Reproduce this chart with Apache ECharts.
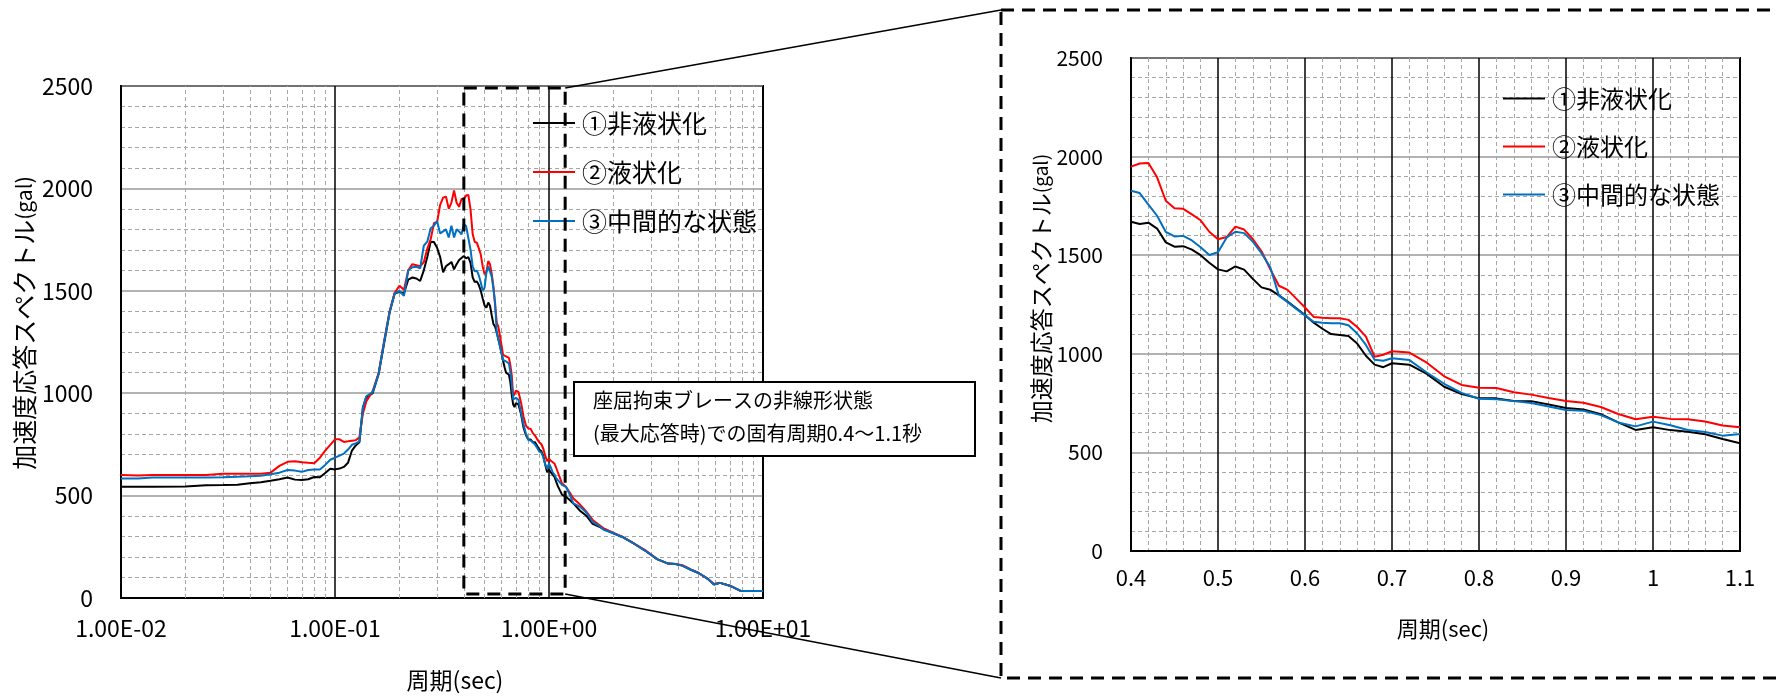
<!DOCTYPE html>
<html>
<head>
<meta charset="utf-8">
<script src="https://cdn.jsdelivr.net/npm/echarts@6/dist/echarts.min.js"></script>
<style>
  html, body { margin: 0; padding: 0; background: #fff; }
  #chart { width: 1778px; height: 697px; }
</style>
</head>
<body>
<div id="chart"></div>
<script>
// 系列名
const seriesNames = ['①非液状化', '②液状化', '③中間的な状態']
const seriesColors = ['#000000', '#ff0000', '#0070c0']

// 短周期側 (0.01〜0.39 sec)
const lowPeriods = [0.01, 0.012, 0.014, 0.02, 0.025, 0.03, 0.035, 0.04, 0.045, 0.05, 0.055, 0.06, 0.065, 0.07, 0.075, 0.08, 0.085, 0.09, 0.095,
  0.1, 0.105, 0.11, 0.115, 0.12, 0.125, 0.13, 0.135, 0.14,
  0.15, 0.16, 0.17, 0.18, 0.19, 0.2, 0.21, 0.22, 0.23, 0.24, 0.25, 0.26, 0.27, 0.28, 0.29, 0.3, 0.31, 0.32, 0.33, 0.34, 0.35, 0.36, 0.37, 0.38, 0.39]
const lowNonLiq = [543, 543, 543, 545, 551, 552, 553, 560, 565, 572, 580, 588, 578, 576, 580, 591, 590, 610, 631,
  628, 632, 640, 660, 720, 745, 760, 930, 980,
  1000, 1095, 1250, 1395, 1487, 1495, 1487, 1555, 1565, 1560, 1548, 1600, 1665, 1740, 1738, 1710, 1665, 1590, 1620, 1630, 1641, 1605, 1630, 1650, 1660]
const lowLiq = [600, 598, 600, 600, 600, 607, 607, 607, 607, 612, 645, 665, 668, 663, 660, 658, 685, 720, 748,
  775, 775, 762, 765, 768, 770, 785, 900, 960,
  1010, 1100, 1260, 1400, 1490, 1525, 1505, 1600, 1630, 1625, 1620, 1640, 1705, 1752, 1830, 1836, 1920, 1955, 1960, 1900, 1931, 1990, 1930, 1910, 1948]
const lowMid = [583, 583, 588, 588, 588, 590, 592, 594, 597, 604, 612, 625, 622, 616, 625, 627, 627, 650, 675,
  685, 695, 705, 725, 748, 755, 765, 930, 985,
  1005, 1095, 1255, 1395, 1487, 1499, 1475, 1600, 1615, 1617, 1610, 1720, 1740, 1805, 1818, 1840, 1780, 1790, 1800, 1760, 1818, 1760, 1800, 1790, 1775]

// 拡大範囲 (0.4〜1.1 sec)
const midPeriods = [0.4, 0.41, 0.42, 0.43, 0.44, 0.45, 0.46, 0.47, 0.48, 0.49, 0.5, 0.51, 0.52, 0.53, 0.54, 0.55, 0.56, 0.57, 0.58, 0.59,
  0.6, 0.61, 0.62, 0.63, 0.64, 0.65, 0.66, 0.67, 0.68, 0.69, 0.7,
  0.72, 0.74, 0.76, 0.78, 0.8, 0.82, 0.84, 0.86, 0.88, 0.9, 0.92, 0.94, 0.96, 0.98, 1.0, 1.02, 1.04, 1.06, 1.08, 1.1]
const midNonLiq = [1670, 1658, 1665, 1635, 1565, 1543, 1546, 1528, 1500, 1462, 1428, 1418, 1443, 1427, 1380, 1337, 1325, 1296, 1265, 1231,
  1197, 1158, 1127, 1100, 1095, 1090, 1052, 990, 945, 932, 952,
  945, 898, 833, 796, 774, 774, 761, 760, 743, 725, 718, 694, 652, 614, 627, 613, 605, 592, 568, 546]
const midLiq = [1949, 1965, 1968, 1895, 1776, 1738, 1735, 1707, 1677, 1619, 1581, 1592, 1645, 1630, 1582, 1520, 1430, 1345, 1324, 1280,
  1235, 1187, 1183, 1180, 1180, 1172, 1136, 1087, 985, 995, 1013,
  1006, 955, 886, 842, 828, 827, 805, 793, 776, 761, 752, 730, 695, 668, 681, 670, 668, 657, 636, 627]
const midMid = [1827, 1815, 1757, 1700, 1618, 1595, 1598, 1575, 1540, 1501, 1515, 1590, 1619, 1612, 1569, 1510, 1440, 1295, 1262, 1228,
  1195, 1162, 1158, 1155, 1155, 1145, 1103, 1045, 970, 965, 977,
  968, 905, 848, 802, 772, 769, 760, 750, 733, 715, 711, 689, 652, 632, 656, 638, 614, 603, 585, 593]

// 長周期側 (1.15〜10 sec)
const highPeriods = [1.15, 1.2, 1.25, 1.3, 1.4, 1.5, 1.6, 1.7, 1.8, 2.0, 2.2, 2.5, 2.8, 3.2, 3.6, 3.9, 4.2, 4.6, 5.0, 5.5, 5.9, 6.3, 7.0, 7.9, 10]
const highNonLiq = [505, 494, 478, 462, 425, 400, 362, 350, 338, 316, 298, 265, 233, 190, 168, 166, 158, 138, 122, 95, 66, 74, 60, 34, 34]
const highLiq = [560, 543, 515, 486, 455, 420, 381, 360, 340, 318, 300, 265, 235, 190, 168, 166, 160, 140, 122, 95, 68, 74, 60, 34, 34]
const highMid = [552, 543, 505, 462, 445, 415, 370, 355, 333, 316, 298, 265, 233, 190, 168, 166, 158, 138, 122, 95, 66, 74, 60, 34, 34]

const lowValues = [lowNonLiq, lowLiq, lowMid]
const midValues = [midNonLiq, midLiq, midMid]
const highValues = [highNonLiq, highLiq, highMid]

const FONT = '"Noto Sans CJK JP", "Noto Sans", sans-serif'
const zip = (xs, ys) => xs.map((x, i) => [x, ys[i]])

// 全体図の系列
const fullSeries = seriesNames.map((name, i) => ({
  name: name,
  type: 'line',
  xAxisIndex: 0,
  yAxisIndex: 0,
  symbol: 'none',
  z: 3,
  lineStyle: { color: seriesColors[i], width: 2 },
  itemStyle: { color: seriesColors[i] },
  data: zip(lowPeriods.concat(midPeriods, highPeriods), lowValues[i].concat(midValues[i], highValues[i]))
}))

// 拡大図の系列
const zoomSeries = seriesNames.map((name, i) => ({
  name: name,
  type: 'line',
  xAxisIndex: 1,
  yAxisIndex: 1,
  symbol: 'none',
  z: 3,
  lineStyle: { color: seriesColors[i], width: 2 },
  itemStyle: { color: seriesColors[i] },
  data: zip(midPeriods, midValues[i])
}))

// 対数軸の補助目盛線 (2〜9)
const logMinorLines = []
;[0.01, 0.1, 1].forEach(d => {
  for (let k = 2; k <= 9; k++) logMinorLines.push({ xAxis: +(k * d).toPrecision(3) })
})

const gridLineDash = { color: '#a6a6a6', width: 1, type: [4, 3] }

function makeYAxis(gridIndex, nameGap, fs, shift) {
  return {
    type: 'value',
    gridIndex: gridIndex,
    min: 0,
    max: 2500,
    interval: 500,
    name: '{a|加速度応答スペクトル}{b|(gal)}',
    nameLocation: 'middle',
    nameGap: nameGap,
    nameTextStyle: {
      color: '#000',
      fontFamily: FONT,
      padding: [0, 0, 0, shift],
      rich: {
        a: { fontSize: fs, fontFamily: FONT, color: '#000' },
        b: { fontSize: fs - 4, fontFamily: FONT, color: '#000' }
      }
    },
    axisLine: { show: true, lineStyle: { color: '#000', width: 2 } },
    axisTick: { show: false },
    axisLabel: { color: '#000', fontSize: fs - 2, fontFamily: FONT, margin: 28, formatter: v => String(v) },
    splitLine: { show: true, lineStyle: { color: '#999', width: 1.5 } },
    minorTick: { show: false, splitNumber: 5 },
    minorSplitLine: { show: true, lineStyle: gridLineDash }
  }
}

function makeLegend(left, top, fs, gap) {
  return {
    left: left, top: top, orient: 'vertical',
    icon: 'rect',
    itemWidth: 42, itemHeight: 2, itemGap: gap,
    textStyle: { fontSize: fs, lineHeight: fs + 1, color: '#000', fontFamily: FONT, padding: [0, 0, 0, 2] },
    data: seriesNames
  }
}

const option = {
  animation: false,
  backgroundColor: '#fff',
  grid: [
    { left: 121, top: 86, width: 642, height: 516, show: true, borderColor: '#000', borderWidth: 2, backgroundColor: 'transparent' },
    { left: 1131, top: 58, width: 609, height: 493, show: true, borderColor: '#000', borderWidth: 2, backgroundColor: 'transparent' }
  ],
  legend: [makeLegend(528, 105, 25, 23), makeLegend(1498, 81, 24, 23)],
  xAxis: [
    {
      type: 'log',
      gridIndex: 0,
      logBase: 10,
      min: 0.01,
      max: 10,
      name: '周期(sec)',
      nameLocation: 'middle',
      nameGap: 71,
      nameTextStyle: { color: '#000', fontSize: 23, fontFamily: FONT, padding: [0, 0, 0, 26] },
      axisLine: { show: true, lineStyle: { color: '#000', width: 2 } },
      axisTick: { show: false },
      axisLabel: {
        color: '#000', fontSize: 23, fontFamily: FONT, margin: 19,
        formatter: v => {
          const e = Math.round(Math.log10(v))
          return '1.00E' + (e < 0 ? '-' : '+') + String(Math.abs(e)).padStart(2, '0')
        }
      },
      splitLine: { show: true, lineStyle: { color: '#000', width: 1.5 } }
    },
    {
      type: 'value',
      gridIndex: 1,
      min: 0.4,
      max: 1.1,
      interval: 0.1,
      name: '周期(sec)',
      nameLocation: 'middle',
      nameGap: 67,
      nameTextStyle: { color: '#000', fontSize: 22, fontFamily: FONT, padding: [0, 0, 0, 15] },
      axisLine: { show: true, lineStyle: { color: '#000', width: 2 } },
      axisTick: { show: false },
      axisLabel: { color: '#000', fontSize: 22, fontFamily: FONT, margin: 16 },
      splitLine: { show: true, lineStyle: { color: '#000', width: 1.5 } },
      minorTick: { show: false, splitNumber: 5 },
      minorSplitLine: { show: true, lineStyle: gridLineDash }
    }
  ],
  yAxis: [makeYAxis(0, 84, 25, 38), makeYAxis(1, 76, 23, 32)],
  series: [
    {
      type: 'line',
      xAxisIndex: 0,
      yAxisIndex: 0,
      data: [],
      silent: true,
      markLine: {
        silent: true,
        z: 1,
        symbol: ['none', 'none'],
        label: { show: false },
        lineStyle: gridLineDash,
        emphasis: { disabled: true },
        data: logMinorLines
      }
    }
  ].concat(fullSeries, zoomSeries)
}

const chart = echarts.init(document.getElementById('chart'))
chart.setOption(option)

// 拡大範囲の枠と引出線
const boxTL = chart.convertToPixel({ gridIndex: 0 }, [0.4, 2490])
const boxBR = chart.convertToPixel({ gridIndex: 0 }, [1.19, 20])
const dashStyle = { fill: null, stroke: '#000', lineWidth: 3, lineDash: [13, 8] }

chart.setOption({
  graphic: [
    {
      type: 'rect', z: 50,
      shape: { x: boxTL[0], y: boxTL[1], width: boxBR[0] - boxTL[0], height: boxBR[1] - boxTL[1] },
      style: dashStyle
    },
    {
      type: 'rect', z: 50,
      shape: { x: 1001, y: 10, width: 820, height: 668 },
      style: dashStyle
    },
    {
      type: 'line', z: 50,
      shape: { x1: boxBR[0], y1: boxTL[1], x2: 1001, y2: 10 },
      style: { stroke: '#000', lineWidth: 1.5 }
    },
    {
      type: 'line', z: 50,
      shape: { x1: boxBR[0], y1: boxBR[1], x2: 1001, y2: 678 },
      style: { stroke: '#000', lineWidth: 1.5 }
    },
    {
      type: 'rect', z: 60,
      shape: { x: 574, y: 382, width: 401, height: 74 },
      style: { fill: '#fff', stroke: '#000', lineWidth: 2 }
    },
    {
      type: 'text', z: 61,
      x: 593, y: 384,
      style: {
        text: '座屈拘束ブレースの非線形状態\n(最大応答時)での固有周期0.4～1.1秒',
        font: '20px ' + FONT,
        lineHeight: 33,
        fill: '#000',
        verticalAlign: 'top'
      }
    }
  ]
})

window.addEventListener('resize', () => chart.resize())
</script>
</body>
</html>
